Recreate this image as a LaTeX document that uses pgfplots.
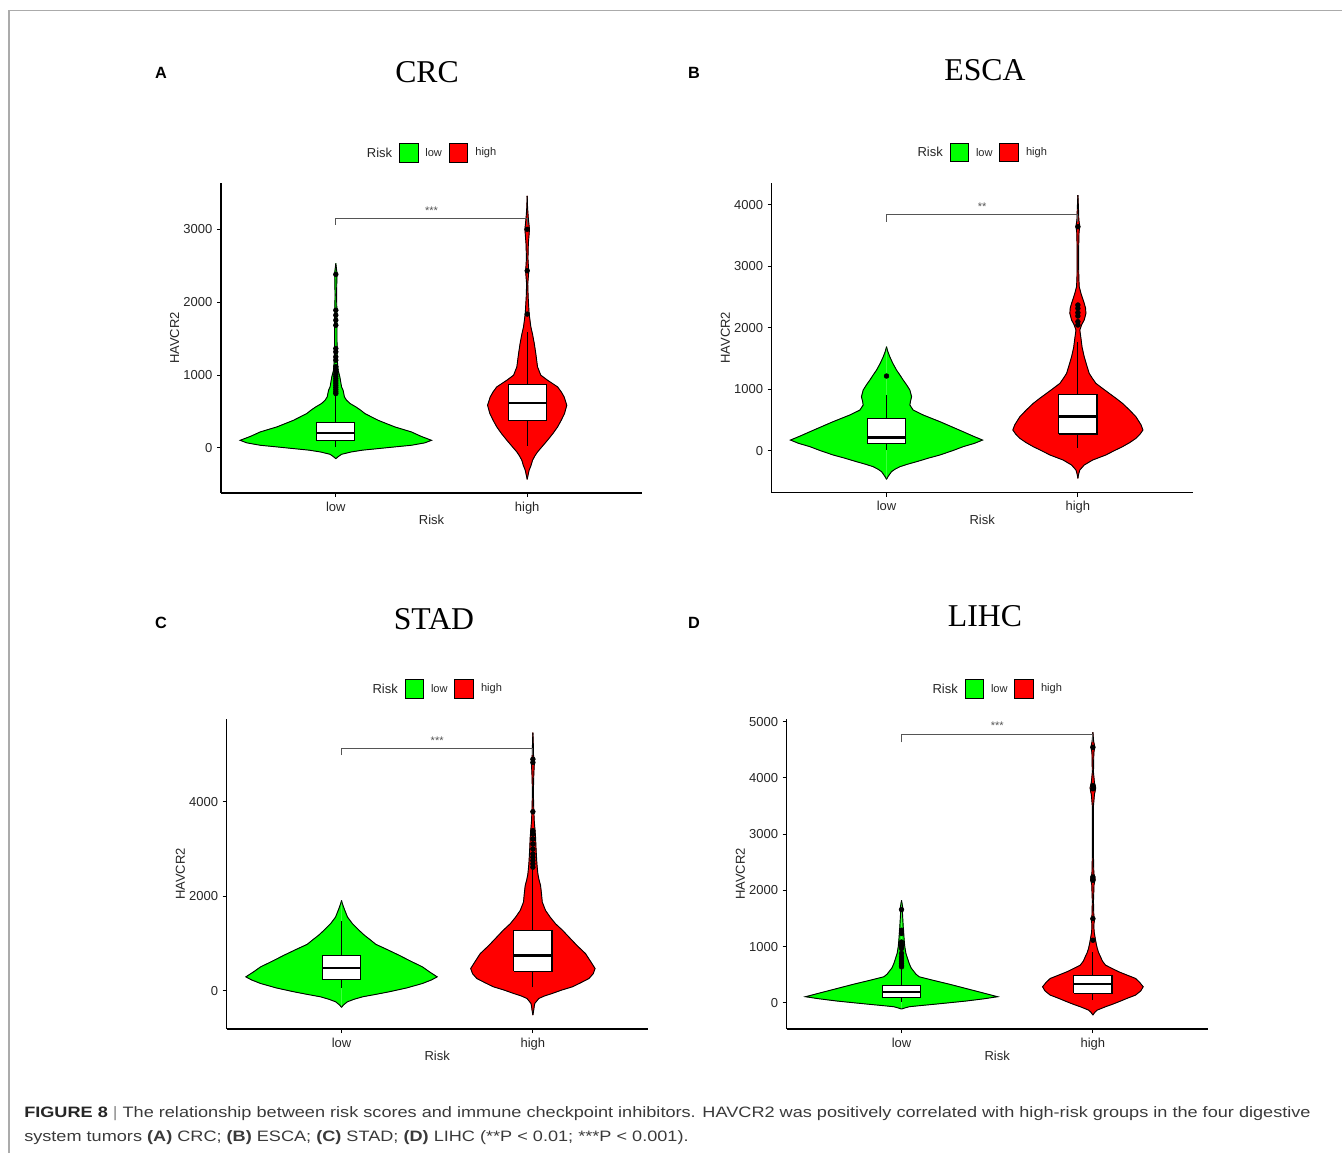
\documentclass[border=0pt]{standalone}
\usepackage{pgfplots}
\usepackage{pgfplotstable}
\pgfplotsset{compat=1.18}
\usepackage{fontspec}
\setmainfont{Liberation Sans}
\newfontfamily\titlefont{Liberation Serif}
\newfontfamily\capfont[FakeStretch=1.203]{Liberation Sans}
\definecolor{vgreen}{HTML}{00FF00}
\definecolor{vred}{HTML}{FF0000}
\definecolor{brk}{HTML}{555555}
\definecolor{captxt}{HTML}{3A3A3A}

% ---------- violin profiles: v = HAVCR2 value, w = half width ----------
\pgfplotstableread{
v w
-147 0
-120 0.012
-87 0.03
-55 0.08
-30 0.14
-9 0.22
15 0.31
37 0.395
70 0.465
105 0.5
160 0.445
220 0.395
289 0.308
380 0.221
472 0.152
518 0.13
563 0.105
609 0.075
655 0.056
701 0.045
792 0.038
838 0.03
976 0.021
1067 0.012
1200 0.008
1500 0.006
1800 0.006
2100 0.004
2400 0.006
2533 0
}\tAlow
\pgfplotstableread{
v w
-431 0
-380 0.004
-307 0.01
-240 0.02
-169 0.028
-110 0.04
-55 0.054
25 0.08
105 0.106
200 0.135
289 0.159
380 0.178
472 0.195
586 0.207
701 0.193
770 0.178
838 0.159
930 0.106
999 0.071
1113 0.054
1296 0.045
1434 0.037
1560 0.028
1663 0.019
1846 0.01
2075 0.005
2250 0.003
2420 0.008
2600 0.004
2800 0.006
3000 0.012
3150 0.006
3300 0.002
3459 0
}\tAhigh
\pgfplotstableread{
v w
-466 0
-420 0.008
-341 0.026
-300 0.045
-260 0.07
-220 0.11
-179 0.157
-120 0.22
-70 0.279
0 0.345
65 0.40
120 0.46
173 0.502
240 0.45
309 0.40
390 0.34
472 0.279
580 0.192
661 0.139
743 0.122
800 0.125
878 0.131
986 0.122
1070 0.105
1149 0.087
1230 0.07
1312 0.052
1420 0.033
1528 0.017
1620 0.006
1691 0
}\tBlow
\pgfplotstableread{
v w
-450 0
-380 0.004
-314 0.01
-233 0.033
-152 0.077
-70 0.146
0 0.19
65 0.233
130 0.27
200 0.303
270 0.325
336 0.34
420 0.33
480 0.318
553 0.303
660 0.27
770 0.233
850 0.2
932 0.164
1010 0.13
1095 0.094
1180 0.075
1257 0.059
1400 0.045
1528 0.033
1680 0.022
1827 0.016
1962 0.01
2050 0.02
2125 0.033
2233 0.042
2320 0.04
2396 0.033
2480 0.024
2558 0.016
2667 0.007
2800 0.005
3000 0.004
3300 0.004
3550 0.006
3650 0.01
3750 0.005
3950 0.003
4157 0
}\tBhigh
\pgfplotstableread{
v w
-351 0
-300 0.01
-232 0.031
-180 0.065
-127 0.11
-75 0.18
-21 0.249
60 0.34
155 0.423
230 0.47
295 0.5
400 0.46
506 0.423
630 0.36
752 0.301
870 0.24
984 0.179
1080 0.15
1174 0.12
1279 0.092
1420 0.057
1561 0.031
1736 0.014
1850 0.004
1912 0
}\tClow
\pgfplotstableread{
v w
-513 0
-420 0.004
-330 0.007
-267 0.01
-162 0.031
-110 0.06
-56 0.101
15 0.15
84 0.206
170 0.25
260 0.293
360 0.315
471 0.325
600 0.305
787 0.275
960 0.23
1139 0.188
1280 0.155
1420 0.118
1560 0.09
1701 0.066
1877 0.049
2053 0.045
2229 0.04
2350 0.032
2475 0.026
2685 0.021
2967 0.017
3248 0.014
3450 0.01
3599 0.007
3800 0.005
4100 0.003
4302 0.003
4600 0.005
4830 0.008
5005 0.003
5250 0.002
5462 0
}\tChigh
\pgfplotstableread{
v w
-112 0
-90 0.02
-71 0.04
-50 0.1
-30 0.162
0 0.25
30 0.336
70 0.43
107 0.502
180 0.42
254 0.336
330 0.25
402 0.162
462 0.092
510 0.075
550 0.066
620 0.05
698 0.04
876 0.023
1000 0.017
1112 0.014
1349 0.009
1586 0.005
1700 0.006
1822 0
}\tDlow
\pgfplotstableread{
v w
-219 0
-170 0.01
-130 0.023
-71 0.066
-30 0.1
18 0.136
80 0.18
136 0.223
210 0.25
284 0.263
360 0.245
432 0.223
490 0.18
550 0.136
610 0.1
669 0.066
740 0.05
817 0.04
890 0.03
964 0.023
1040 0.018
1112 0.014
1250 0.007
1349 0.005
1420 0.006
1480 0.009
1540 0.005
1800 0.003
2100 0.006
2200 0.012
2300 0.005
2600 0.003
3500 0.003
3700 0.008
3820 0.015
3920 0.008
4100 0.003
4450 0.005
4550 0.01
4650 0.004
4811 0
}\tDhigh

\pgfplotsset{
  panel/.style={
    scale only axis, width=315.75pt, height=232.5pt, anchor=south west,
    xmin=0.4, xmax=2.6, xtick={1,2}, xticklabels={low,high},
    axis x line*=bottom, axis y line*=left,
    axis line style={line width=0.8pt, black, -},
    tick align=outside, major tick length=3pt,
    tick style={black, line width=0.8pt},
    minor tick num=0,
    ticklabel style={font=\fontsize{9.75}{11}\selectfont, text=black!85},
    /pgf/number format/1000 sep={},
    /pgf/number format/assume math mode=true,
    xlabel={Risk}, ylabel={HAVCR2},
    label style={font=\fontsize{9.75}{11}\selectfont, text=black!85},
    xlabel style={at={(axis description cs:0.5,-0.087)}, anchor=center},
    ylabel style={at={(axis description cs:-0.110,0.5)}, anchor=center},
    clip=false,
  },
  outl/.style={only marks, mark=*, mark size=1.8pt, black, forget plot},
  bracket/.style={brk, line width=0.6pt, forget plot},
}
% legend row above the panel
\newcommand{\riskLegend}{%
  \node[font=\fontsize{9.75}{11}\selectfont, text=black!85] at (axis description cs:0.3765,1.098) {Risk};
  \node[draw=black, fill=vgreen, line width=0.5pt, minimum size=14pt, inner sep=0pt] at (axis description cs:0.446,1.098) {};
  \node[font=\fontsize{8.3}{10}\selectfont, text=black!85] at (axis description cs:0.505,1.098) {low};
  \node[draw=black, fill=vred, line width=0.5pt, minimum size=14pt, inner sep=0pt] at (axis description cs:0.564,1.098) {};
  \node[font=\fontsize{8.3}{10}\selectfont, text=black!85] at (axis description cs:0.629,1.098) {high};
}
% violin: #1 table, #2 centre, #3 colour. Each half is filled (closed implicitly along the centre line).
\newcommand{\violin}[3]{%
  \addplot[fill=#3, draw=#3, line width=0.3pt, forget plot] table[x expr=#2-\thisrow{w}, y=v] {#1};
  \addplot[fill=#3, draw=#3, line width=0.3pt, forget plot] table[x expr=#2+\thisrow{w}, y=v] {#1};
  \addplot[black, line width=0.7pt, forget plot] table[x expr=#2-\thisrow{w}, y=v] {#1};
  \addplot[black, line width=0.7pt, forget plot] table[x expr=#2+\thisrow{w}, y=v] {#1};
}
% box: #1 centre, #2 left, #3 right, #4 lower whisker, #5 Q1, #6 median, #7 Q3, #8 upper whisker
\newcommand{\riskbox}[8]{%
  \addplot[black, line width=0.8pt, forget plot] coordinates {(#1,#4) (#1,#5)};
  \addplot[black, line width=0.8pt, forget plot] coordinates {(#1,#7) (#1,#8)};
  \addplot[fill=white, draw=black, line width=0.8pt, forget plot] coordinates {(#2,#5) (#3,#5) (#3,#7) (#2,#7) (#2,#5)};
  \addplot[black, line width=1.8pt, forget plot] coordinates {(#2,#6) (#3,#6)};
}

\begin{document}
\begin{tikzpicture}
\path[use as bounding box] (0pt,0pt) rectangle (1006.5pt,864.75pt);
\draw[black!33, line width=0.9pt] (6.75pt,0pt) -- (6.75pt,856.875pt) -- (1006.5pt,856.875pt);

% ---------------- A: CRC ----------------
\begin{axis}[panel, at={(165.75pt,495pt)}, ymin=-618, ymax=3636, ytick={0,1000,2000,3000}]
\violin{\tAlow}{1}{vgreen}
\violin{\tAhigh}{2}{vred}
\riskbox{1}{0.9}{1.1}{10}{96}{206}{348}{726}
\riskbox{2}{1.9}{2.1}{27}{380}{618}{870}{1594}
\addplot[outl] coordinates {(1,747) (1,770) (1,800) (1,830) (1,860) (1,890) (1,920) (1,950) (1,980) (1,1010) (1,1045) (1,1080) (1,1116) (1,1205) (1,1250) (1,1319) (1,1365) (1,1684) (1,1753) (1,1822) (1,1890) (1,2382)};
\addplot[outl] coordinates {(2,1837) (2,2432) (2,3000)};
\addplot[bracket] coordinates {(1,3060) (1,3152) (2,3152) (2,3060)};
\node[font=\fontsize{8.3}{10}\selectfont, text=brk, yshift=-1.5pt] at (axis cs:1.5,3289) {***};
\riskLegend
\end{axis}

% ---------------- B: ESCA ----------------
\begin{axis}[panel, at={(578.775pt,495.225pt)}, ymin=-683, ymax=4358, ytick={0,1000,2000,3000,4000}]
\violin{\tBlow}{1}{vgreen}
\violin{\tBhigh}{2}{vred}
\riskbox{1}{0.9}{1.1}{10}{119}{217}{520}{905}
\riskbox{2}{1.9}{2.1}{49}{271}{553}{921}{1772}
\addplot[outl] coordinates {(1,1214)};
\addplot[outl] coordinates {(2,2043) (2,2098) (2,2190) (2,2244) (2,2314) (2,2369) (2,3642)};
\addplot[bracket] coordinates {(1,3724) (1,3837) (2,3837) (2,3724)};
\node[font=\fontsize{8.3}{10}\selectfont, text=brk, yshift=-1.5pt] at (axis cs:1.5,3995) {**};
\riskLegend
\end{axis}

% ---------------- C: STAD ----------------
\begin{axis}[panel, at={(170.025pt,93pt)}, ymin=-808, ymax=5750, ytick={0,2000,4000}]
\violin{\tClow}{1}{vgreen}
\violin{\tChigh}{2}{vred}
\riskbox{1}{0.9}{1.1}{63}{239}{478}{738}{1469}
\riskbox{2}{1.9}{2.1}{70}{415}{745}{1279}{2560}
\addplot[outl] coordinates {(2,2615) (2,2685) (2,2756) (2,2826) (2,2896) (2,3002) (2,3107) (2,3213) (2,3318) (2,3388) (2,3789) (2,4830) (2,4900)};
\addplot[bracket] coordinates {(1,4984) (1,5132) (2,5132) (2,4984)};
\node[font=\fontsize{8.3}{10}\selectfont, text=brk, yshift=-1.5pt] at (axis cs:1.5,5343) {***};
\riskLegend
\end{axis}

% ---------------- D: LIHC ----------------
\begin{axis}[panel, at={(590.025pt,93pt)}, ymin=-467, ymax=5047, ytick={0,1000,2000,3000,4000,5000}]
\violin{\tDlow}{1}{vgreen}
\violin{\tDhigh}{2}{vred}
\riskbox{1}{0.9}{1.1}{18}{95}{189}{302}{612}
\riskbox{2}{1.9}{2.1}{47}{166}{331}{491}{905}
\addplot[outl] coordinates {(1,639) (1,660) (1,698) (1,740) (1,780) (1,817) (1,880) (1,964) (1,994) (1,1024) (1,1080) (1,1231) (1,1290) (1,1657)};
\addplot[outl] coordinates {(2,1112) (2,1497) (2,2178) (2,2237) (2,3805) (2,3864) (2,4544)};
\addplot[bracket] coordinates {(1,4633) (1,4781) (2,4781) (2,4633)};
\node[font=\fontsize{8.3}{10}\selectfont, text=brk, yshift=-1.5pt] at (axis cs:1.5,4959) {***};
\riskLegend
\end{axis}

% ---------------- titles and panel letters ----------------
\begin{scope}[every node/.style={inner sep=0pt}]
\node[font=\titlefont\fontsize{23.8}{26}\selectfont] at (320.25pt,810.75pt) {CRC};
\node[font=\titlefont\fontsize{23.8}{26}\selectfont] at (738.75pt,812.25pt) {ESCA};
\node[font=\titlefont\fontsize{23.8}{26}\selectfont] at (325.5pt,400.5pt) {STAD};
\node[font=\titlefont\fontsize{23.8}{26}\selectfont] at (738.75pt,402.75pt) {LIHC};
\node[font=\bfseries\fontsize{12.2}{14}\selectfont] at (120.75pt,810pt) {A};
\node[font=\bfseries\fontsize{12.2}{14}\selectfont] at (520.5pt,810pt) {B};
\node[font=\bfseries\fontsize{12.2}{14}\selectfont] at (120.75pt,397.5pt) {C};
\node[font=\bfseries\fontsize{12.2}{14}\selectfont] at (520.5pt,397.5pt) {D};
% caption
\node[anchor=base west, text=captxt, font=\capfont\fontsize{11.3}{13}\selectfont] at (18pt,26.775pt)
  {\textcolor{black!85}{\textbf{FIGURE 8}} \textcolor{black!45}{|} The relationship between risk scores and immune checkpoint inhibitors. HAVCR2 was positively correlated with high-risk groups in the four digestive};
\node[anchor=base west, text=captxt, font=\capfont\fontsize{11.3}{13}\selectfont] at (18pt,9pt)
  {system tumors \textbf{(A)} CRC; \textbf{(B)} ESCA; \textbf{(C)} STAD; \textbf{(D)} LIHC (**P < 0.01; ***P < 0.001).};
\end{scope}
\end{tikzpicture}
\end{document}
